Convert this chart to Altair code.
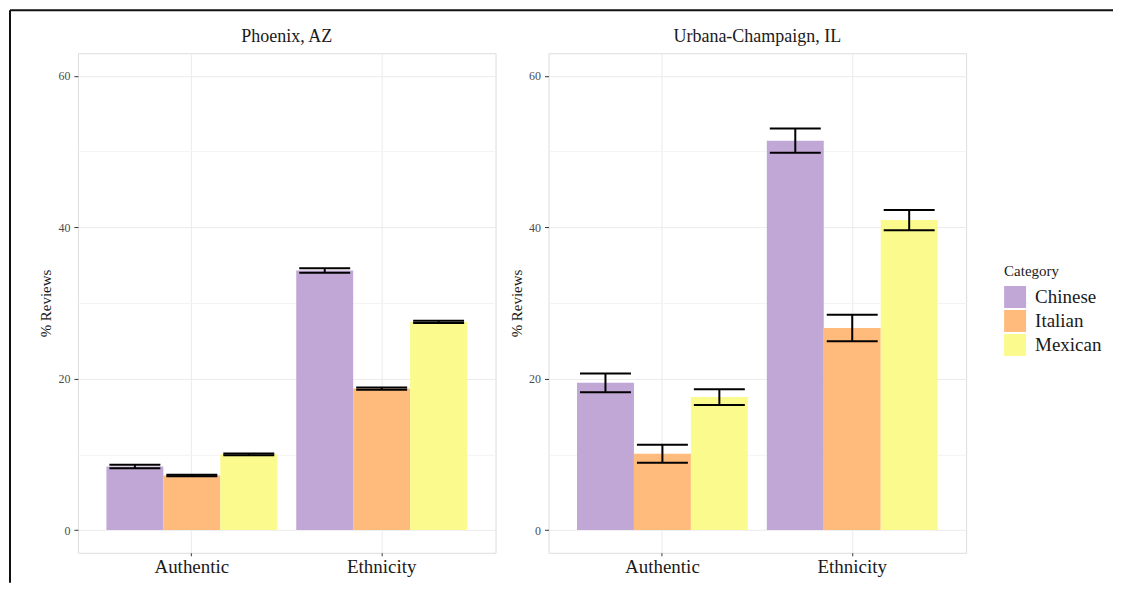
import altair as alt
import pandas as pd

cities = ["Phoenix, AZ", "Urbana-Champaign, IL"]
measures = ["Authentic", "Ethnicity"]
categories = ["Chinese", "Italian", "Mexican"]
colors = ["#C1A7D6", "#FEBB7C", "#FAFB8C"]

# order: Authentic (Chinese, Italian, Mexican), Ethnicity (Chinese, Italian, Mexican)
phoenix_pct = [8.4, 7.2, 10.0, 34.3, 18.7, 27.5]
phoenix_err = [0.22, 0.1, 0.12, 0.3, 0.15, 0.15]
urbana_pct = [19.45, 10.08, 17.57, 51.45, 26.7, 40.95]
urbana_err = [1.25, 1.2, 1.05, 1.6, 1.75, 1.35]

FONT = "Liberation Serif"


def make_df(pcts, errs):
    rows = []
    i = 0
    for m in measures:
        for c in categories:
            rows.append({"Measure": m, "Category": c, "Pct": pcts[i],
                         "Lo": pcts[i] - errs[i], "Hi": pcts[i] + errs[i]})
            i += 1
    return pd.DataFrame(rows)


is_major = "datum.value % 20 == 0"

y_axis = alt.Axis(
    values=[0, 10, 20, 30, 40, 50, 60],
    labelExpr="datum.value % 20 == 0 ? datum.label : ''",
    gridColor={"condition": {"test": is_major, "value": "#EBEBEB"}, "value": "#F3F3F3"},
    tickOpacity={"condition": {"test": is_major, "value": 1}, "value": 0},
    labelFontSize=12, labelColor="#4D4D4D", labelFont=FONT,
    tickSize=4, tickColor="#333333", labelPadding=4, domain=False,
    titleFont=FONT, titleFontSize=15, titleFontWeight="normal", titleColor="#1a1a1a",
    titlePadding=4,
)

x_axis = alt.Axis(
    labelFontSize=19, labelColor="#1a1a1a", labelFont=FONT, labelAngle=0,
    tickSize=3, tickColor="#333333", labelPadding=2, grid=True,
    gridColor="#EBEBEB", domain=False, bandPosition=0.5,
)

legend = alt.Legend(
    orient="none", legendX=927, legendY=211, title="Category",
    titleFont=FONT, titleFontSize=15, titleFontWeight="normal", titleColor="#1a1a1a",
    titlePadding=7, labelFont=FONT, labelFontSize=19, labelColor="#1a1a1a",
    symbolType="square", symbolSize=484, symbolStrokeWidth=0, symbolOpacity=1,
    labelOffset=9, rowPadding=2,
)


def panel(name, pcts, errs, frame=False, title_dy=0):
    df = make_df(pcts, errs)
    base = alt.Chart(df)
    x = alt.X("Measure:N", title=None,
              scale=alt.Scale(domain=measures, paddingInner=0.1, paddingOuter=0.15),
              axis=x_axis)
    xo = alt.XOffset("Category:N",
                     scale=alt.Scale(domain=categories, paddingInner=0, paddingOuter=0))
    yscale = alt.Scale(domain=[-3, 63], nice=False, zero=False)
    bars = base.mark_bar(opacity=1).encode(
        x=x, xOffset=xo,
        y=alt.Y("Pct:Q", title="% Reviews", scale=yscale, axis=y_axis),
        y2=alt.datum(0),
        color=alt.Color("Category:N",
                        scale=alt.Scale(domain=categories, range=colors),
                        legend=legend),
    )
    rule = base.mark_rule(color="black", strokeWidth=2).encode(
        x=x, xOffset=xo, y=alt.Y("Lo:Q", scale=yscale), y2="Hi:Q")
    cap_lo = base.mark_tick(color="black", size=51, thickness=2, opacity=1).encode(
        x=x, xOffset=xo, y=alt.Y("Lo:Q", scale=yscale))
    cap_hi = base.mark_tick(color="black", size=51, thickness=2, opacity=1).encode(
        x=x, xOffset=xo, y=alt.Y("Hi:Q", scale=yscale))
    layers = [bars, rule, cap_lo, cap_hi]
    if frame:
        fd = alt.Chart(pd.DataFrame({"f": [0]}))
        left_line = fd.mark_rule(color="#111111", strokeWidth=2).encode(
            x=alt.value(-68), y=alt.value(-43), y2=alt.value(530))
        top_line = fd.mark_rule(color="#111111", strokeWidth=2).encode(
            x=alt.value(-68), x2=alt.value(1036), y=alt.value(-43))
        layers += [left_line, top_line]
    return alt.layer(*layers).properties(
        width=418, height=500,
        title=alt.Title(name, font=FONT, fontSize=18, fontWeight="normal",
                        color="#1a1a1a", anchor="middle", baseline="alphabetic",
                        offset=12, frame="group", dy=title_dy),
    )


left = panel(cities[0], phoenix_pct, phoenix_err, frame=True, title_dy=63)
right = panel(cities[1], urbana_pct, urbana_err, title_dy=18.5)

chart = alt.hconcat(left, right, spacing=53, bounds="flush").properties(
    padding=0
).configure_view(
    stroke="#6A6A6A", strokeWidth=1.2
).configure(background="white")

chart.save("out.html", embed_options={"renderer": "svg", "actions": False})
